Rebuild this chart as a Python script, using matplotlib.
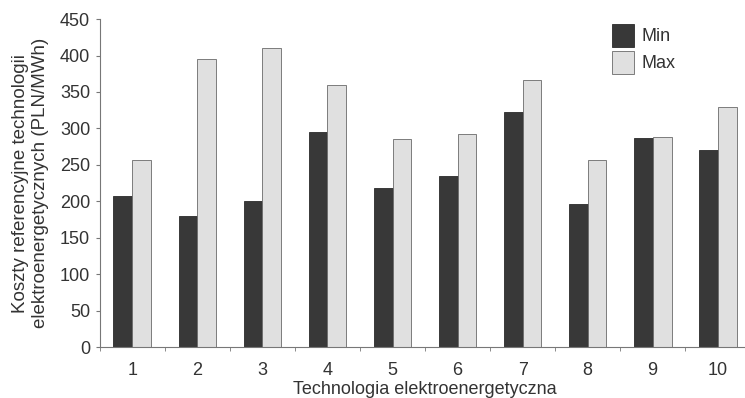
import numpy as np
import matplotlib.pyplot as plt
from matplotlib.ticker import FixedLocator, NullFormatter

plt.rcParams['font.family'] = ['Liberation Sans', 'DejaVu Sans']

# data
technologies = [1, 2, 3, 4, 5, 6, 7, 8, 9, 10]
cost_min = [207, 180, 200, 295, 218, 235, 323, 196, 287, 270]
cost_max = [256, 395, 410, 360, 285, 292, 367, 256, 288, 330]

fig = plt.figure(figsize=(7.45, 3.98), dpi=100)
ax = fig.add_axes([0.134, 0.128, 0.873, 0.824])

x = np.arange(len(technologies)) + 1
w = 0.29
ax.bar(x - w / 2, cost_min, w, color='#383838', edgecolor='#2a2a2a', linewidth=0.6, label='Min')
ax.bar(x + w / 2, cost_max, w, color='#e0e0e0', edgecolor='#6a6a6a', linewidth=0.6, label='Max')

ax.set_xlim(0.5, 10.5)
ax.set_ylim(0, 450)
ax.set_yticks(np.arange(0, 451, 50))
ax.set_xticks(x)
ax.set_xticklabels([str(t) for t in technologies])
ax.xaxis.set_minor_locator(FixedLocator(np.arange(0.5, 11, 1)))
ax.xaxis.set_minor_formatter(NullFormatter())
ax.tick_params(axis='x', which='major', length=0, pad=11, labelsize=13, labelcolor='#333333')
ax.tick_params(axis='x', which='minor', length=3, color='#777777')
ax.tick_params(axis='y', length=3, pad=4, color='#777777', labelsize=13, labelcolor='#333333')

for s in ['top', 'right']:
    ax.spines[s].set_visible(False)
for s in ['left', 'bottom']:
    ax.spines[s].set_color('#777777')
    ax.spines[s].set_linewidth(0.8)

ax.set_xlabel('Technologia elektroenergetyczna', fontsize=13, color='#333333', labelpad=1)
ax.set_ylabel('Koszty referencyjne technologii\nelektroenergetycznych (PLN/MWh)',
              fontsize=13.5, color='#333333', labelpad=8, linespacing=1.2)

leg = ax.legend(loc='upper left', bbox_to_anchor=(0.762, 1.035), frameon=False,
                fontsize=13, handlelength=1.25, handleheight=1.6, labelspacing=0.2,
                handletextpad=0.4)
for t in leg.get_texts():
    t.set_color('#333333')

fig.savefig('out.png', dpi=100)
